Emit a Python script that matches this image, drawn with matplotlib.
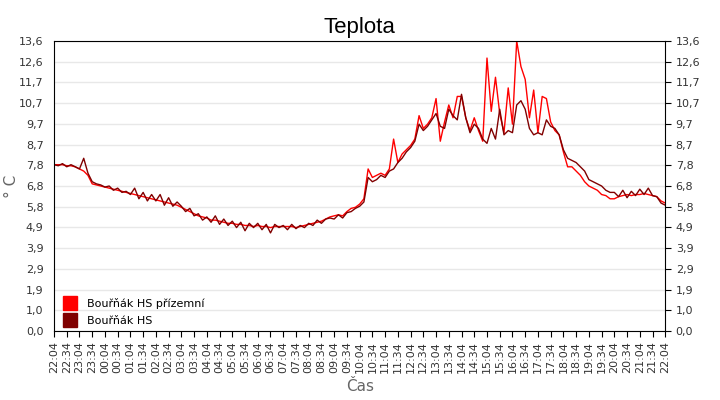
import numpy as np
import matplotlib
matplotlib.use("Agg")
import matplotlib.pyplot as plt
from matplotlib.lines import Line2D

# temperatures every 10 minutes from 22:04 to 22:04 next day
hs_dark = [
    7.8, 7.75, 7.85, 7.7, 7.8, 7.7,
    7.6, 8.1, 7.4, 7.0, 6.9, 6.85,
    6.75, 6.8, 6.6, 6.7, 6.5, 6.55,
    6.4, 6.7, 6.2, 6.5, 6.1, 6.4,
    6.1, 6.4, 5.9, 6.25, 5.85, 6.05,
    5.85, 5.6, 5.75, 5.4, 5.5, 5.2,
    5.35, 5.1, 5.4, 5.0, 5.25, 4.95,
    5.15, 4.85, 5.1, 4.7, 5.05, 4.85,
    5.05, 4.75, 5.0, 4.6, 5.0, 4.85,
    4.95, 4.75, 5.0, 4.8, 4.95, 4.85,
    5.05, 4.95, 5.2, 5.05, 5.25, 5.3,
    5.25, 5.45, 5.3, 5.55, 5.6, 5.75,
    5.85, 6.05, 7.2, 7.0, 7.1, 7.3,
    7.2, 7.5, 7.6, 7.9, 8.1, 8.4,
    8.6, 8.9, 9.7, 9.4, 9.6, 9.9,
    10.2, 9.6, 9.5, 10.4, 10.1, 9.9,
    11.1, 10.0, 9.3, 9.7, 9.5, 9.0,
    8.8, 9.5, 9.0, 10.4, 9.2, 9.4,
    9.3, 10.6, 10.8, 10.4, 9.5, 9.2,
    9.3, 9.2, 9.9, 9.6, 9.5, 9.2,
    8.5, 8.1, 8.0, 7.9, 7.7, 7.5,
    7.1, 7.0, 6.9, 6.8, 6.6, 6.5,
    6.5, 6.3, 6.6, 6.25, 6.55, 6.35,
    6.65, 6.4, 6.7, 6.35, 6.3, 6.0,
    5.9,
]
hs_ground = [
    7.8, 7.8, 7.8, 7.75, 7.75, 7.7,
    7.6, 7.5, 7.3, 6.9, 6.85, 6.8,
    6.75, 6.7, 6.65, 6.6, 6.55, 6.5,
    6.45, 6.4, 6.35, 6.3, 6.25, 6.2,
    6.15, 6.1, 6.05, 6.0, 5.95, 5.9,
    5.8, 5.7, 5.6, 5.5, 5.4, 5.35,
    5.3, 5.2, 5.2, 5.15, 5.1, 5.05,
    5.05, 5.0, 5.0, 4.95, 4.95, 4.9,
    4.95, 4.9, 4.9, 4.85, 4.9, 4.9,
    4.9, 4.9, 4.9, 4.85, 4.9, 4.95,
    5.0, 5.05, 5.1, 5.15, 5.25, 5.35,
    5.4, 5.45, 5.4, 5.6, 5.75, 5.8,
    5.95, 6.2, 7.6, 7.2, 7.3, 7.4,
    7.3, 7.6, 9.0, 7.9, 8.3, 8.5,
    8.7, 9.0, 10.1, 9.5, 9.7, 10.0,
    10.9, 8.9, 9.8, 10.6, 10.0, 11.0,
    11.0, 10.0, 9.4, 10.0, 9.4, 8.9,
    12.8, 10.3, 11.9, 10.2, 9.3, 11.4,
    9.7, 13.6, 12.4, 11.8, 10.0, 11.3,
    9.3, 11.0, 10.9, 9.8, 9.4, 9.2,
    8.4, 7.7, 7.7, 7.5, 7.3, 7.0,
    6.8, 6.7, 6.6, 6.4, 6.35, 6.2,
    6.2, 6.3, 6.35, 6.4, 6.35, 6.4,
    6.4, 6.45, 6.4, 6.35, 6.3, 6.1,
    6.0,
]
x_labels = [
    "22:04", "22:34", "23:04", "23:34", "00:04", "00:34", "01:04", "01:34",
    "02:04", "02:34", "03:04", "03:34", "04:04", "04:34", "05:04", "05:34",
    "06:04", "06:34", "07:04", "07:34", "08:04", "08:34", "09:04", "09:34",
    "10:04", "10:34", "11:04", "11:34", "12:04", "12:34", "13:04", "13:34",
    "14:04", "14:34", "15:04", "15:34", "16:04", "16:34", "17:04", "17:34",
    "18:04", "18:34", "19:04", "19:34", "20:04", "20:34", "21:04", "21:34",
    "22:04",
]
y_max = 13.6

t = np.arange(len(hs_dark)) * 10
fig = plt.figure(figsize=(7.2, 4), dpi=100)
ax = fig.add_axes([0.075, 0.1725, 0.849, 0.725])

ax.plot(t, hs_ground, color="#ff0000", lw=1)
ax.plot(t, hs_dark, color="#800000", lw=1)

ax.set_xlim(0, 1440)
ax.set_ylim(0, y_max)
yt = np.linspace(0, y_max, 15)
ax.set_yticks(yt)
ax.set_yticklabels([("%.1f" % v).replace(".", ",") for v in yt])
ax.set_xticks(np.arange(len(x_labels)) * 30)
ax.set_xticklabels(x_labels, rotation=90)
ax.grid(axis="y", color="#e8e8e8", lw=1)
ax.set_axisbelow(True)

ax.tick_params(axis="y", left=True, right=True, labelleft=True, labelright=True,
               length=4, direction="out", labelsize=8, labelcolor="#333333")
ax.tick_params(axis="y", which="both", left=False)
ax.tick_params(axis="x", length=4, direction="out", labelsize=8, labelcolor="#333333")
for s in ax.spines.values():
    s.set_color("black")

ax.set_title("Teplota", fontsize=16, family="Liberation Sans", pad=6)
ax.set_ylabel("° C", fontsize=11, color="#666666")
ax.yaxis.set_label_coords(-0.058, 0.5)
ax.set_xlabel("Čas", fontsize=11, color="#666666", labelpad=4)

handles = [
    Line2D([], [], ls="none", marker="s", markersize=10, color="#ff0000"),
    Line2D([], [], ls="none", marker="s", markersize=10, color="#800000"),
]
ax.legend(handles, ["Bouřňák HS přízemní", "Bouřňák HS"], loc="lower left",
          bbox_to_anchor=(-0.003, -0.005), frameon=False, fontsize=8,
          handletextpad=0.5, labelspacing=0.65, borderaxespad=0.2)

fig.savefig("out.png", dpi=100)
